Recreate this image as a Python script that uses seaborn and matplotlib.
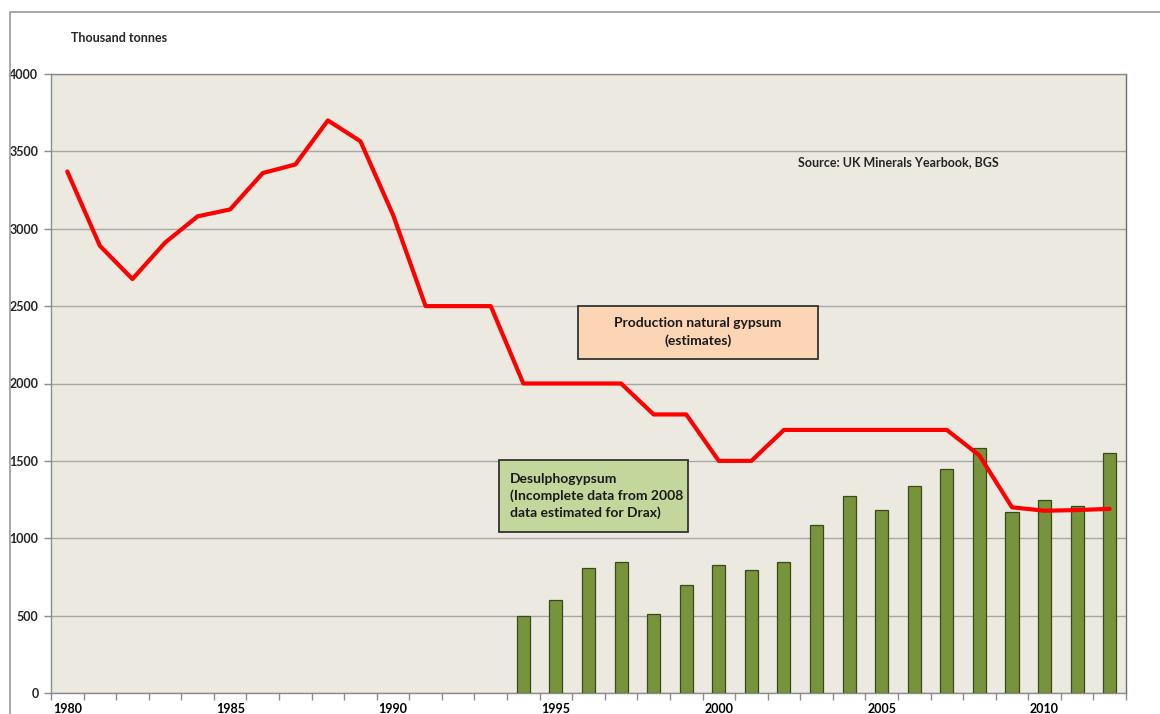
import numpy as np
import pandas as pd
import matplotlib
matplotlib.use("Agg")
import matplotlib.pyplot as plt
from matplotlib.patches import Rectangle
import seaborn as sns

# data (thousand tonnes)
years = list(range(1980, 2013))
natural_gypsum = [3370, 2890, 2675, 2910, 3080, 3125, 3360, 3415, 3700, 3565,
                  3090, 2500, 2500, 2500, 2000, 2000, 2000, 2000, 1800, 1800,
                  1500, 1500, 1700, 1700, 1700, 1700, 1700, 1700, 1535, 1200,
                  1178, 1182, 1190]
desulpho_years = list(range(1994, 2013))
desulphogypsum = [500, 600, 810, 845, 510, 700, 825, 795, 845, 1083,
                  1275, 1182, 1340, 1445, 1585, 1172, 1247, 1210, 1551]
y_ticks = list(range(0, 4001, 500))

W, H = 1160, 714


def px_box(fig, x0, y0, x1, y1, face):
    # box given in pixel coords of the figure (y from the top)
    fig.patches.append(Rectangle((x0 / W, 1 - y1 / H), (x1 - x0) / W, (y1 - y0) / H,
                                 transform=fig.transFigure, facecolor=face,
                                 edgecolor='#333333', linewidth=1.3, zorder=5))


def main():
    sns.set_theme(style="white")
    plt.rcParams['font.family'] = ['Lato', 'DejaVu Sans']

    fig = plt.figure(figsize=(W / 100, H / 100), dpi=100)
    ax = fig.add_axes([51 / W, 1 - 693 / H, (1126 - 51) / W, (693 - 74) / H])
    ax.set_facecolor('#ECE9E0')

    order = [str(y) for y in years]
    bars = pd.DataFrame({'year': [str(y) for y in desulpho_years],
                         'value': desulphogypsum})
    sns.barplot(data=bars, x='year', y='value', order=order, ax=ax,
                color='#77933C', saturation=1, width=0.4,
                edgecolor='#3A4A1E', linewidth=0.9, zorder=3)

    line = pd.DataFrame({'pos': np.arange(len(years)), 'value': natural_gypsum})
    sns.lineplot(data=line, x='pos', y='value', ax=ax, color='#FF0000',
                 linewidth=3, zorder=4)

    ax.set_xlim(-0.5, len(years) - 0.5)
    ax.set_ylim(0, 4000)
    ax.set_yticks(y_ticks)
    ax.set_yticklabels([str(v) for v in y_ticks], fontweight='bold', fontsize=9)

    label_pos = [i for i, y in enumerate(years) if y % 5 == 0]
    ax.set_xticks(label_pos)
    ax.set_xticklabels([str(years[i]) for i in label_pos], fontweight='bold', fontsize=9)
    ax.set_xticks(np.arange(len(years) + 1) - 0.5, minor=True)
    ax.tick_params(axis='x', which='major', length=0, pad=7, colors='black')
    ax.tick_params(axis='x', which='minor', length=5, color='#8C8C8C', width=1, bottom=True)
    ax.tick_params(axis='y', length=5, color='#8C8C8C', width=1, left=True, pad=4)

    ax.yaxis.grid(True, color='#A6A6A6', linewidth=1)
    ax.set_axisbelow(True)
    for s in ax.spines.values():
        s.set_color('#8C8C8C')
        s.set_linewidth(1)
    ax.spines['right'].set_color('#6E6E6E')

    ax.set_xlabel('')
    ax.set_ylabel('')

    # chart frame
    fig.patches.append(Rectangle((10 / W, -0.1), 1.2, 1 - 12 / H + 0.1,
                                 transform=fig.transFigure, fill=False,
                                 edgecolor='#9A9A9A', linewidth=1.2))

    fig.text(71 / W, 1 - 38 / H, 'Thousand tonnes', fontsize=9, fontweight='bold',
             va='center', ha='left')
    fig.text(798 / W, 1 - 162 / H, 'Source: UK Minerals Yearbook, BGS', fontsize=9,
             fontweight='bold', va='center', ha='left')

    px_box(fig, 578, 306, 818, 359, '#FCD5B5')
    fig.text(698 / W, 1 - 332 / H, 'Production natural gypsum\n(estimates)',
             fontsize=10, fontweight='bold', ha='center', va='center',
             linespacing=1.45, color='#1A1A1A', zorder=6)
    px_box(fig, 499, 460, 688, 532, '#C3D69B')
    fig.text(510 / W, 1 - 496 / H,
             'Desulphogypsum\n(Incomplete data from 2008\ndata estimated for Drax)',
             fontsize=10, fontweight='bold', ha='left', va='center',
             linespacing=1.4, color='#1A1A1A', zorder=6)

    fig.savefig('out.png', dpi=100)


if __name__ == '__main__':
    main()
